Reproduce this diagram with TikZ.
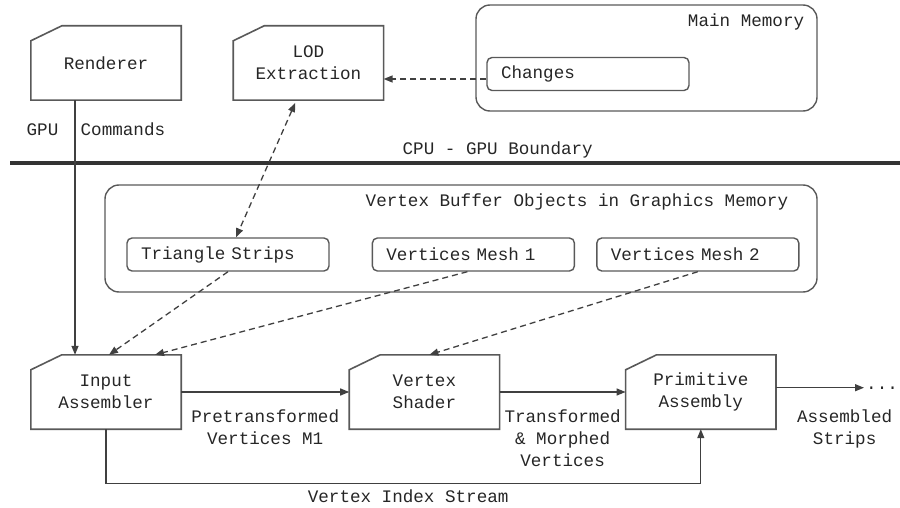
\documentclass[tikz,border=0pt]{standalone}
\usepackage{fontspec}
\setmonofont{Liberation Mono}
\usetikzlibrary{positioning, arrows.meta}

\begin{document}
\begin{tikzpicture}[
  x=1pt, y=-1pt,
  >={Triangle[length=9pt, width=7pt]},
  font=\ttfamily\fontsize{17.6}{22}\selectfont,
  text=black!85,
  stagebox/.style={minimum width=150pt, minimum height=74pt, align=center, inner sep=0pt},
  stageline/.style={draw=black!65, line width=1.6pt, line join=miter},
  memory/.style={draw=black!65, line width=1.4pt, rounded corners=14pt},
  buffer/.style={draw=black!65, line width=1.4pt, rounded corners=5pt,
                 minimum height=33pt, text width=174pt, inner xsep=14pt,
                 inner ysep=0pt, align=left},
  ann/.style={align=center, inner sep=2pt},
  arr/.style={->, draw=black!75, line width=1.3pt},
  darr/.style={arr, dash pattern=on 6pt off 4pt}
]
\useasboundingbox (0,0) rectangle (900,508);

% CPU side
\node[stagebox] (rend) at (106,63) {Renderer};
\node[stagebox, right=52pt of rend] (lod) {LOD\\Extraction};
\node[memory, minimum width=341pt, minimum height=106pt] (mm) at (646.5,58) {};
\node[anchor=east] (mmlabel) at ([xshift=-10pt, yshift=-18pt]mm.north east) {Main Memory};
\node[buffer] (chg) at (588,74) {Changes};

% boundary
\coordinate (bl) at (10,163);
\coordinate (br) at (900,163);
\draw[line width=4pt, black!80] (bl) -- (br)
  node[pos=0.548, above=1pt, ann, text=black!85] {CPU - GPU Boundary};

% GPU side
\node[memory, minimum width=712pt, minimum height=107pt] (vbo) at (461,238.5) {};
\node[anchor=east] (vbolabel) at ([xshift=-26pt, yshift=-18pt]vbo.north east)
  {Vertex Buffer Objects in Graphics Memory};
\node[buffer] (ts) at (228,254.5) {Triangle Strips};
\node[buffer, right=42pt of ts] (vm1) {Vertices Mesh 1};
\node[buffer, right=21pt of vm1] (vm2) {Vertices Mesh 2};

\node[stagebox] (ia) at (106,392) {Input\\Assembler};
\node[stagebox, right=168pt of ia] (vs) {Vertex\\Shader};
\node[stagebox, right=126pt of vs] (pa) {Primitive\\Assembly};

% cut-corner outlines
\foreach \n in {rend, lod, ia, vs, pa}
  \draw[stageline] (\n.south west) -- (\n.south east) -- (\n.north east)
    -- ([xshift=31pt]\n.north west) -- ([yshift=-15pt]\n.north west) -- cycle;

% connectors
\draw[arr] ([xshift=-31pt]rend.south) -- ([xshift=-31pt]ia.north)
  node[pos=0.114, left=14pt, ann] {GPU}
  node[pos=0.114, right=3pt, ann] {Commands};
\draw[darr, <->, shorten <=3pt] ([xshift=-12pt]lod.south) -- ([xshift=8pt]ts.north);
\draw[darr] ([yshift=-5pt]chg.west) -- ([yshift=-5pt]chg.west -| lod.east);
\draw[darr] (ts.south) -- ([xshift=3pt]ia.north);
\draw[darr] ([xshift=-6pt]vm1.south) -- ([xshift=49pt]ia.north);
\draw[darr] (vm2.south) -- ([xshift=5pt]vs.north);

\draw[arr] (ia.east) -- (vs.west)
  node[midway, below=15pt, ann] {Pretransformed\\Vertices M1};
\draw[arr] (vs.east) -- (pa.west)
  node[midway, below=15pt, ann] {Transformed\\\& Morphed\\Vertices};
\node[ann, anchor=base west] (more) at (864,389) {...};
\draw[arr] (pa.east |- more.west) -- (more.west)
  node[pos=0.78, below=19pt, ann] {Assembled\\Strips};
\draw[arr] (ia.south) -- ++(0,54) -| (pa.south)
  node[pos=0.254, below=4pt, ann] {Vertex Index Stream};
\end{tikzpicture}
\end{document}
